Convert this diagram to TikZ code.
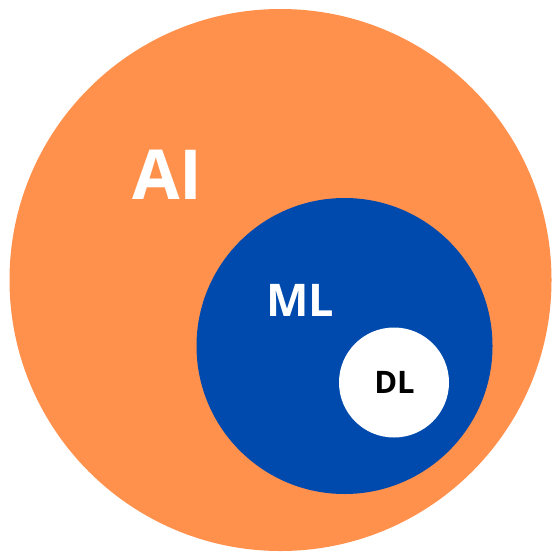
\documentclass[tikz,border=0pt]{standalone}
\usepackage{fontspec}
\setmainfont{Open Sans}
\usepackage{tikz}
\definecolor{aiorange}{HTML}{FF914D}
\definecolor{mlblue}{HTML}{004AAD}
\tikzset{
  disc/.style={circle, fill=#1, draw=none, inner sep=0pt},
  tag/.style={font=\bfseries, inner sep=0pt},
}

\begin{document}
\begin{tikzpicture}[x=1pt, y=-1pt]
    \useasboundingbox (0,0) rectangle (553,551);
    \node[disc=aiorange, minimum size=542pt] (ai) at (280.5,280) {};
    \node[disc=mlblue, minimum size=296pt] (ml) at (344.5,346) {};
    \node[disc=white, minimum size=110pt] (dl) at (394,382.5) {};
    \node[tag, text=white, font=\fontsize{69}{69}\bfseries] (ait) at (167.5,174.5) {AI};
    \node[tag, text=white, font=\fontsize{45}{45}\bfseries] (mlt) at (300,300) {ML};
    \node[tag, text=black, font=\fontsize{31}{31}\bfseries] (dlt) at (394.5,382.5) {DL};
  \end{tikzpicture}
\end{document}
